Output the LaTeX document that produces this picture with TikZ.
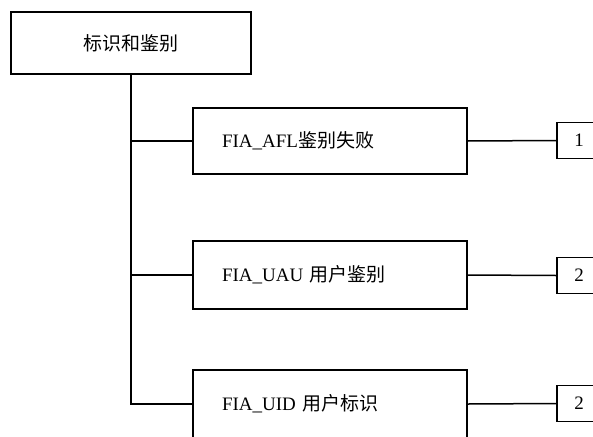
\documentclass[tikz,border=0pt]{standalone}
\usepackage{fontspec}
\setmainfont{Liberation Serif}
\newfontfamily\cjk{Noto Sans CJK SC}
\begin{document}
\begin{tikzpicture}[x=1pt,y=-1pt,
  box/.style={draw,line width=1.5pt,inner sep=0pt,font=\fontsize{19}{22}\selectfont},
  bigbox/.style={box,minimum height=66pt,text width=216pt,inner xsep=29pt,align=left},
  numbox/.style={box,minimum width=44pt,minimum height=36pt},
  link/.style={line width=1.5pt}]
\useasboundingbox (0,0) rectangle (593,436);
\clip (0,0) rectangle (593,436);
\node[box,minimum width=240pt,minimum height=62pt] (root) at (131,43) {\cjk 标识和鉴别};
\node[bigbox] (b1) at (330,141) {FIA\_AFL{\cjk 鉴别失败}};
\node[bigbox,minimum height=68pt] (b2) at (330,275) {FIA\_UAU {\cjk 用户鉴别}};
\node[bigbox,minimum height=68pt] (b3) at (330,404) {FIA\_UID {\cjk 用户标识}};
\node[numbox] (s1) at (579,140.5) {1};
\node[numbox] (s2) at (579,275.5) {2};
\node[numbox] (s3) at (579,403.5) {2};
\draw[link] (root.south) -- (root.south |- b3.west) -- (b3.west);
\draw[link] (root.south |- b1.west) -- (b1.west);
\draw[link] (root.south |- b2.west) -- (b2.west);
\draw[link] (b1.east) -- (s1.west);
\draw[link] (b2.east) -- (s2.west);
\draw[link] (b3.east) -- (s3.west);
\end{tikzpicture}
\end{document}
